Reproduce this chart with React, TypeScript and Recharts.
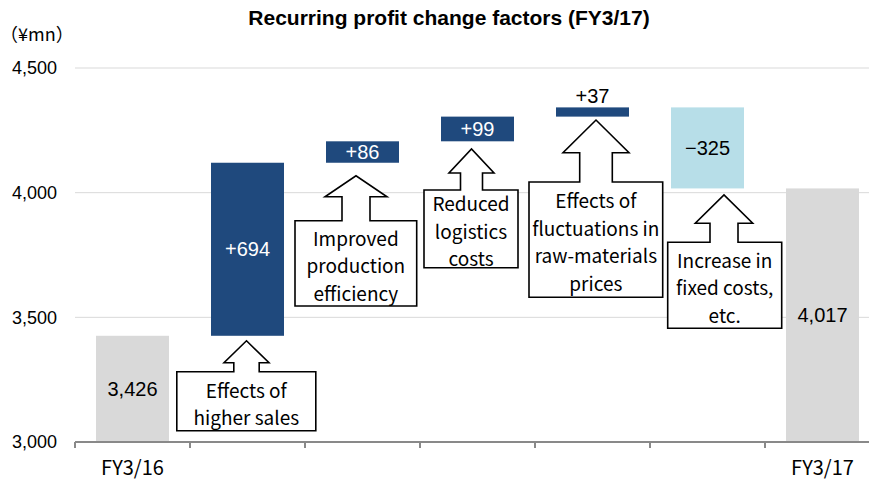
import React from "react";
import { BarChart, Bar, XAxis, YAxis, CartesianGrid, LabelList, Cell } from "recharts";

// ---------- data ----------
const categories = [
  "FY3/16",
  "Effects of higher sales",
  "Improved production efficiency",
  "Reduced logistics costs",
  "Effects of fluctuations in raw-materials prices",
  "Increase in fixed costs, etc.",
  "FY3/17",
];
const tickLabels = ["FY3/16", "", "", "", "", "", "FY3/17"];
const kinds = ["total", "delta", "delta", "delta", "delta", "delta", "total"];
const values = [3426, 694, 86, 99, 37, -325, 4017];
const valueLabels = ["3,426", "+694", "+86", "+99", "+37", "\u2212325", "4,017"];
const calloutLines: string[][] = [
  [],
  ["Effects of", "higher sales"],
  ["Improved", "production", "efficiency"],
  ["Reduced", "logistics", "costs"],
  ["Effects of", "fluctuations in", "raw-materials", "prices"],
  ["Increase in", "fixed costs,", "etc."],
  [],
];
const yTicks = [3000, 3500, 4000, 4500];
const titleText = "Recurring profit change factors (FY3/17)";
const unitText = "（¥mn）";

// ---------- styles ----------
const COLORS = { total: "#D9D9D9", up: "#1F497D", down: "#B7DEE8" };
const calloutStyles: any[] = [
  null,
  { gap: 5, dx: -1, headHalf: 22.5, headH: 22, shaftHalf: 12.7, shaftH: 9, boxLeft: -69.7, boxW: 139, boxH: 59 },
  { gap: 13, dx: -6.5, headHalf: 31, headH: 21, shaftHalf: 14, shaftH: 24, boxLeft: -61, boxW: 121.7, boxH: 85.3 },
  { gap: 7.7, dx: -6, headHalf: 22.5, headH: 24, shaftHalf: 11, shaftH: 17, boxLeft: -47.5, boxW: 94, boxH: 77.7 },
  { gap: 3.4, dx: 3.5, headHalf: 33, headH: 32.7, shaftHalf: 16.3, shaftH: 29.3, boxLeft: -67, boxW: 133.7, boxH: 115.3 },
  { gap: 6.5, dx: 16.5, headHalf: 28.7, headH: 28.3, shaftHalf: 14, shaftH: 19, boxLeft: -56.3, boxW: 114, boxH: 86 },
  null,
];

// build waterfall ranges
let running = 0;
const data = categories.map((name, i) => {
  const v = values[i];
  let range: number[];
  if (kinds[i] === "total") {
    running = v;
    range = [yTicks[0], v];
  } else {
    const lo = running;
    const hi = running + v;
    range = [Math.min(lo, hi), Math.max(lo, hi)];
    running = hi;
  }
  return { name, range };
});

const colorFor = (i: number) =>
  kinds[i] === "total" ? COLORS.total : values[i] >= 0 ? COLORS.up : COLORS.down;

const CALLOUT_FONT = "'Noto Sans CJK JP', sans-serif";
const NUM_FONT = "'Liberation Sans', Arial, sans-serif";

const BarWithCallout = (props: any) => {
  const { x, y, width, height, index, fill } = props;
  const st = calloutStyles[index];
  const lines = calloutLines[index] || [];
  let callout = null;
  if (st) {
    const tx = x + width / 2 + st.dx;
    const ty = y + height + st.gap;
    const hb = ty + st.headH;
    const bt = hb + st.shaftH;
    const bl = tx + st.boxLeft;
    const br = bl + st.boxW;
    const bb = bt + st.boxH;
    const d = `M${bl},${bb} L${bl},${bt} L${tx - st.shaftHalf},${bt} L${tx - st.shaftHalf},${hb} L${tx - st.headHalf},${hb} L${tx},${ty} L${tx + st.headHalf},${hb} L${tx + st.shaftHalf},${hb} L${tx + st.shaftHalf},${bt} L${br},${bt} L${br},${bb} Z`;
    const lh = 27.5;
    const cy = (bt + bb) / 2 + 1.5;
    const cx = (bl + br) / 2;
    callout = (
      <g>
        <path d={d} fill="#FFFFFF" stroke="#000000" strokeWidth={1.6} strokeLinejoin="miter" />
        {lines.map((ln, k) => (
          <text
            key={k}
            x={cx}
            y={cy + (k - (lines.length - 1) / 2) * lh}
            textAnchor="middle"
            dominantBaseline="central"
            fontFamily={CALLOUT_FONT}
            fontSize={19}
            fill="#000"
          >
            {ln}
          </text>
        ))}
      </g>
    );
  }
  return (
    <g>
      <rect x={x} y={y} width={width} height={height} fill={fill} />
      {callout}
    </g>
  );
};

const renderValueLabel = (props: any) => {
  const { x, y, width, height, index } = props;
  const cx = x + width / 2;
  const isUpSmall = kinds[index] === "delta" && values[index] > 0 && Math.abs(height) < 15;
  const inside = !isUpSmall;
  const color = kinds[index] === "delta" && values[index] > 0 && inside ? "#FFFFFF" : "#000000";
  const ty = inside ? y + height / 2 : y - 11;
  return (
    <text
      x={cx}
      y={ty}
      textAnchor="middle"
      dominantBaseline="central"
      fontFamily={NUM_FONT}
      fontSize={20}
      fill={color}
    >
      {valueLabels[index]}
    </text>
  );
};

const XTick = (props: any) => {
  const { x, y, payload, index } = props;
  const off = payload && typeof payload.offset === "number" ? payload.offset : 57.5;
  const label = tickLabels[index] || "";
  return (
    <g>
      <line x1={x - off} x2={x - off} y1={y} y2={y + 6} stroke="#898989" strokeWidth={2} />
      {label ? (
        <text
          x={x}
          y={y + 24}
          textAnchor="middle"
          dominantBaseline="central"
          fontFamily={CALLOUT_FONT}
          fontSize={20}
          fill="#000"
        >
          {label}
        </text>
      ) : null}
    </g>
  );
};

export default function App() {
  return (
    <div
      style={{
        position: "absolute",
        left: 0,
        top: 0,
        width: 869,
        height: 480,
        overflow: "hidden",
        background: "#FFFFFF",
      }}
    >
      <div
        style={{
          position: "absolute",
          left: 0,
          top: 5,
          width: 898,
          textAlign: "center",
          fontFamily: NUM_FONT,
          fontWeight: "bold",
          fontSize: 21,
          lineHeight: "26px",
          color: "#000",
        }}
      >
        {titleText}
      </div>
      <div
        style={{
          position: "absolute",
          left: 0,
          top: 21,
          fontFamily: CALLOUT_FONT,
          fontSize: 18,
          lineHeight: "24px",
          color: "#000",
          whiteSpace: "nowrap",
        }}
      >
        {unitText}
      </div>
      <BarChart
        width={900}
        height={480}
        data={data}
        margin={{ top: 68, right: 20, bottom: 8, left: 0 }}
        barCategoryGap={21}
      >
        <CartesianGrid vertical={false} stroke="#D9D9D9" strokeWidth={1} />
        <XAxis
          dataKey="name"
          type="category"
          height={30}
          interval={0}
          axisLine={{ stroke: "#898989", strokeWidth: 2 }}
          tickLine={false}
          tickSize={0}
          tickMargin={0}
          tick={<XTick />}
        />
        <YAxis
          width={75}
          type="number"
          domain={[yTicks[0], yTicks[yTicks.length - 1]]}
          ticks={yTicks}
          axisLine={false}
          tickLine={false}
          tickSize={0}
          tickMargin={18}
          tickFormatter={(v: number) => v.toLocaleString("en-US")}
          tick={{ fill: "#000", fontSize: 18, fontFamily: NUM_FONT }}
        />
        <Bar dataKey="range" isAnimationActive={false} shape={<BarWithCallout />}>
          {data.map((d, i) => (
            <Cell key={d.name} fill={colorFor(i)} />
          ))}
          <LabelList dataKey="range" content={renderValueLabel} />
        </Bar>
      </BarChart>
    </div>
  );
}
